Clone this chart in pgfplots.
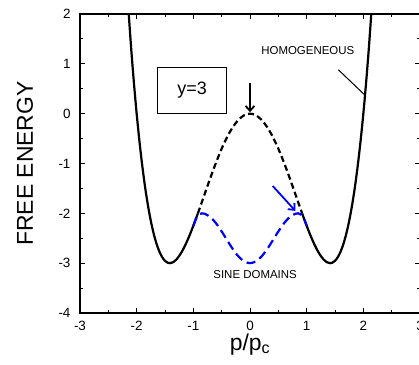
\documentclass[border=0pt]{standalone}
\usepackage{pgfplots}
\pgfplotsset{compat=1.18}
\usepackage{fontspec}
\setmainfont{Liberation Sans}
\usetikzlibrary{arrows.meta}
\begin{document}
\begin{tikzpicture}
\begin{axis}[
  scale only axis, width=340bp, height=299bp,
  xmin=-3, xmax=3, ymin=-4, ymax=2,
  xtick={-3,-2,-1,0,1,2,3}, ytick={-4,-3,-2,-1,0,1,2},
  minor x tick num=1, minor y tick num=1,
  tick align=inside,
  major tick length=5bp, minor tick length=3bp,
  axis line style={line width=1.3bp},
  every tick/.style={line width=1bp, black},
  ticklabel style={font=\fontsize{13.5}{14}\selectfont},
  /pgf/number format/assume math mode=true,
  xticklabel style={yshift=-5bp},
  yticklabel style={xshift=-6bp},
  xlabel={p/p\textsubscript{c}},
  xlabel style={font=\fontsize{23}{24}\selectfont, at={(axis description cs:0.5,0)}, anchor=base, yshift=-37bp},
  ylabel={FREE ENERGY},
  ylabel style={font=\fontsize{23}{24}\selectfont, at={(axis description cs:-0.162,0.5)}, anchor=center},
  clip=true,
]
% solid homogeneous curve, right branch
\addplot[black, line width=2.2bp, smooth] coordinates {
(0.92,-2.002)(0.95,-2.097)(1.0,-2.25)(1.05,-2.396)(1.1,-2.532)(1.15,-2.656)(1.2,-2.765)(1.25,-2.856)(1.3,-2.928)(1.35,-2.976)(1.414,-3.0)(1.45,-2.992)(1.5,-2.953)(1.55,-2.879)(1.6,-2.765)(1.65,-2.609)(1.7,-2.406)(1.75,-2.153)(1.8,-1.847)(1.85,-1.483)(1.9,-1.056)(1.95,-0.563)(2.0,0)(2.05,0.638)(2.1,1.356)(2.16,2.33)
};
% solid homogeneous curve, left branch
\addplot[black, line width=2.2bp, smooth] coordinates {
(-2.16,2.33)(-2.1,1.356)(-2.05,0.638)(-2.0,0)(-1.95,-0.563)(-1.9,-1.056)(-1.85,-1.483)(-1.8,-1.847)(-1.75,-2.153)(-1.7,-2.406)(-1.65,-2.609)(-1.6,-2.765)(-1.55,-2.879)(-1.5,-2.953)(-1.45,-2.992)(-1.414,-3.0)(-1.35,-2.976)(-1.3,-2.928)(-1.25,-2.856)(-1.2,-2.765)(-1.15,-2.656)(-1.1,-2.532)(-1.05,-2.396)(-1.0,-2.25)(-0.95,-2.097)(-0.92,-2.002)
};
% dashed unstable part
\addplot[black, line width=2.2bp, smooth, dash pattern=on 6bp off 3.5bp] coordinates {
(-0.92,-2.002)(-0.85,-1.776)(-0.8,-1.613)(-0.7,-1.290)(-0.6,-0.983)(-0.5,-0.703)(-0.4,-0.461)(-0.3,-0.264)(-0.2,-0.119)(-0.1,-0.030)(0,0)(0.1,-0.030)(0.2,-0.119)(0.3,-0.264)(0.4,-0.461)(0.5,-0.703)(0.6,-0.983)(0.7,-1.290)(0.8,-1.613)(0.85,-1.776)(0.92,-2.002)
};
% sine domains
\addplot[blue, line width=2.2bp, smooth, dash pattern=on 9bp off 5bp] coordinates {
(-1.0,-2.25)(-0.95,-2.097)(-0.9,-2.025)(-0.85,-2.0)(-0.8,-2.009)(-0.7,-2.075)(-0.6,-2.199)(-0.5,-2.363)(-0.4,-2.546)(-0.3,-2.723)(-0.2,-2.870)(-0.1,-2.966)(0,-3.0)(0.1,-2.966)(0.2,-2.870)(0.3,-2.723)(0.4,-2.546)(0.5,-2.363)(0.6,-2.199)(0.7,-2.075)(0.8,-2.009)(0.85,-2.0)(0.9,-2.025)(0.95,-2.097)(1.0,-2.25)
};
% annotations
\draw[line width=0.8bp] (axis cs:-1.63,0) rectangle (axis cs:-0.41,0.93);
\node[font=\fontsize{18}{19}\selectfont] at (axis cs:-1.02,0.465) {y=3};
\draw[line width=1.8bp, -{Straight Barb[length=5bp,width=9bp,line width=1.8bp]}] (axis cs:0,0.62) -- (axis cs:0,0.03);
\draw[blue, line width=1.8bp, -{Straight Barb[length=5bp,width=9bp,line width=1.8bp]}] (axis cs:0.40,-1.45) -- (axis cs:0.80,-1.95);
\node[font=\fontsize{11.5}{12}\selectfont] at (axis cs:1.02,1.26) {HOMOGENEOUS};
\draw[line width=1bp] (axis cs:1.56,0.88) -- (axis cs:2.03,0.37);
\node[font=\fontsize{11.5}{12}\selectfont] at (axis cs:0.09,-3.22) {SINE DOMAINS};
\end{axis}
\pgfresetboundingbox
\path[use as bounding box] ([xshift=-80bp,yshift=-52bp]current axis.south west) rectangle ([xshift=-1bp,yshift=14bp]current axis.north east);
\end{tikzpicture}
\end{document}
